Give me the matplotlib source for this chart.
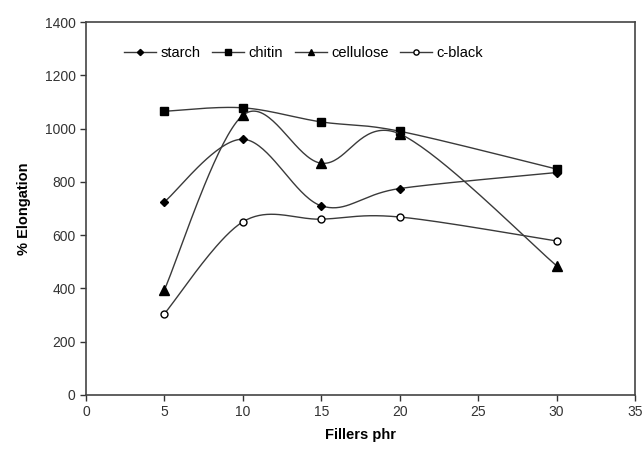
import numpy as np
import matplotlib
matplotlib.use("Agg")
import matplotlib.pyplot as plt
from matplotlib.lines import Line2D

plt.rcParams['font.family'] = ['Liberation Sans', 'DejaVu Sans']

fillers = [5, 10, 15, 20, 30]
starch = [725, 960, 710, 775, 835]
chitin = [1065, 1078, 1025, 990, 848]
cellulose = [395, 1050, 870, 980, 485]
cblack = [305, 650, 660, 668, 578]

series = [
    ("starch", starch, dict(marker='D', markersize=4.2, markerfacecolor='black', markeredgecolor='black')),
    ("chitin", chitin, dict(marker='s', markersize=5.5, markerfacecolor='black', markeredgecolor='black')),
    ("cellulose", cellulose, dict(marker='^', markersize=6.5, markerfacecolor='black', markeredgecolor='black')),
    ("c-black", cblack, dict(marker='o', markersize=5, markerfacecolor='white', markeredgecolor='black')),
]


def smooth(xs, ys, n=40):
    P = np.column_stack([xs, ys]).astype(float)
    m = len(P)
    out = []
    for i in range(m - 1):
        p0 = P[i - 1] if i > 0 else P[i]
        p1 = P[i]
        p2 = P[i + 1]
        p3 = P[i + 2] if i + 2 < m else P[i + 1]
        c1 = p1 + (p2 - p0) / 6.0
        c2 = p2 - (p3 - p1) / 6.0
        t = np.linspace(0, 1, n)[:, None]
        seg = ((1 - t) ** 3) * p1 + 3 * ((1 - t) ** 2) * t * c1 + 3 * (1 - t) * t ** 2 * c2 + t ** 3 * p2
        out.append(seg if i == 0 else seg[1:])
    s = np.vstack(out)
    return s[:, 0], s[:, 1]


fig = plt.figure(figsize=(6.43, 4.54), dpi=100)
ax = fig.add_axes([0.1337, 0.13, 0.854, 0.8215])

handles = []
for name, vals, mk in series:
    sx, sy = smooth(fillers, vals)
    ax.plot(sx, sy, color='#3a3a3a', lw=1.0)
    ax.plot(fillers, vals, linestyle='none', **mk)
    handles.append(Line2D([], [], color='#3a3a3a', lw=1.0, **mk))

ax.set_xlim(0, 35)
ax.set_ylim(0, 1400)
ax.set_xticks(range(0, 36, 5))
ax.set_yticks(range(0, 1401, 200))
ax.tick_params(direction='out', length=4, width=1, labelsize=10, colors='#333333', labelcolor='#333333')
for sp in ax.spines.values():
    sp.set_color('#444444')
    sp.set_linewidth(1.2)

ax.set_xlabel('Fillers phr', fontsize=10.5, fontweight='bold', labelpad=6)
ax.set_ylabel('% Elongation', fontsize=10.5, fontweight='bold', labelpad=10)

leg = ax.legend(handles, [s[0] for s in series], loc='upper left', ncol=4, frameon=False,
                bbox_to_anchor=(0.045, 0.97), handlelength=2.2, handletextpad=0.3,
                columnspacing=0.8, fontsize=10.5, markerscale=0.75)

fig.savefig('out.png', dpi=100)
